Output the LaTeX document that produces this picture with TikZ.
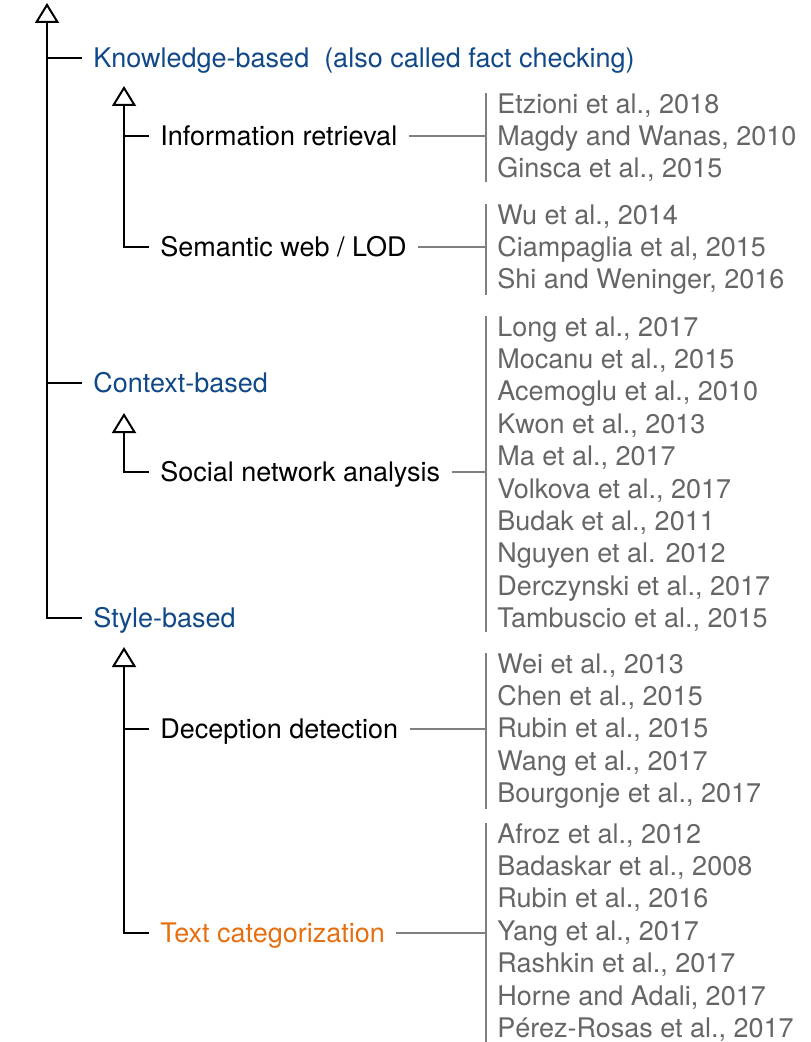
\documentclass[tikz,border=0pt]{standalone}
\usepackage{fontspec}
\setmainfont{TeX Gyre Heros}
\usepackage{xcolor}
\usetikzlibrary{arrows.meta,positioning,calc}

\definecolor{kbblue}{RGB}{16,72,136}
\definecolor{tcorange}{RGB}{228,112,18}
\definecolor{refgray}{RGB}{102,102,102}
\definecolor{linegray}{RGB}{128,128,128}

\tikzset{
    lbl/.style={inner xsep=5.5pt, inner ysep=0pt, anchor=west, text height=9.7pt, text depth=0pt,
        font=\fontsize{13.5}{16.2}\selectfont},
    cat/.style={lbl, text=kbblue},
    sub/.style={lbl, text=black},
    refs/.style={inner xsep=5.5pt, inner ysep=0pt, anchor=north west, align=left, text=refgray,
        font=\fontsize{13.5}{16.2}\selectfont},
    tree/.style={line width=1pt, black},
    gen/.style={tree, -{Triangle[open, width=12pt, length=10pt]}},
    link/.style={line width=0.7pt, linegray},
}

\begin{document}
\begin{tikzpicture}[x=0.5pt, y=-0.5pt]
    \useasboundingbox (0,0) rectangle (810,1042);
    % Categories
    \coordinate (top) at (47,3);
    \node[cat] (kb) at (82,58) {Knowledge-based\ \ (also called fact checking)};
    \node[cat] (cb) at (82,383) {Context-based};
    \node[cat] (sb) at (82,618) {Style-based};
    \draw[gen] (sb.west) -| (top);
    \draw[tree] (kb.west) -- (kb.west -| top);
    \draw[tree] (cb.west) -- (cb.west -| top);
    % Knowledge-based
    \coordinate (kbtop) at (124,86);
    \node[sub] (ir) at (149,136) {Information retrieval};
    \node[sub] (sw) at (149,247) {Semantic web / LOD};
    \draw[gen] (sw.west) -| (kbtop);
    \draw[tree] (ir.west) -- (ir.west -| kbtop);
    % Context-based
    \coordinate (cbtop) at (124,413);
    \node[sub] (sna) at (149,472) {Social network analysis};
    \draw[gen] (sna.west) -| (cbtop);
    % Style-based
    \coordinate (sbtop) at (124,647);
    \node[sub] (dd) at (149,729) {Deception detection};
    \node[sub, text=tcorange] (tc) at (149,933) {Text categorization};
    \draw[gen] (tc.west) -| (sbtop);
    \draw[tree] (dd.west) -- (dd.west -| sbtop);
    % References
    \node[refs] (irrefs) at (486,93) {Etzioni et al., 2018\\Magdy and Wanas, 2010\\Ginsca et al., 2015};
    \node[refs] (swrefs) at (486,204) {Wu et al., 2014\\Ciampaglia et al, 2015\\Shi and Weninger, 2016};
    \node[refs] (snarefs) at (486,316) {Long et al., 2017\\Mocanu et al., 2015\\Acemoglu et al., 2010\\Kwon et al., 2013\\Ma et al., 2017\\Volkova et al., 2017\\Budak et al., 2011\\Nguyen et al. 2012\\Derczynski et al., 2017\\Tambuscio et al., 2015};
    \node[refs] (ddrefs) at (486,653) {Wei et al., 2013\\Chen et al., 2015\\Rubin et al., 2015\\Wang et al., 2017\\Bourgonje et al., 2017};
    \node[refs] (tcrefs) at (486,823) {Afroz et al., 2012\\Badaskar et al., 2008\\Rubin et al., 2016\\Yang et al., 2017\\Rashkin et al., 2017\\Horne and Adali, 2017\\Pérez-Rosas et al., 2017};
    \foreach \r in {irrefs,swrefs,snarefs,ddrefs,tcrefs}
        \draw[link] (\r.north west) -- (\r.south west);
    % Links to references
    \draw[link] (ir.east) -- (ir.east -| irrefs.west);
    \draw[link] (sw.east) -- (sw.east -| swrefs.west);
    \draw[link] (sna.east) -- (sna.east -| snarefs.west);
    \draw[link] (dd.east) -- (dd.east -| ddrefs.west);
    \draw[link] (tc.east) -- (tc.east -| tcrefs.west);
\end{tikzpicture}
\end{document}
